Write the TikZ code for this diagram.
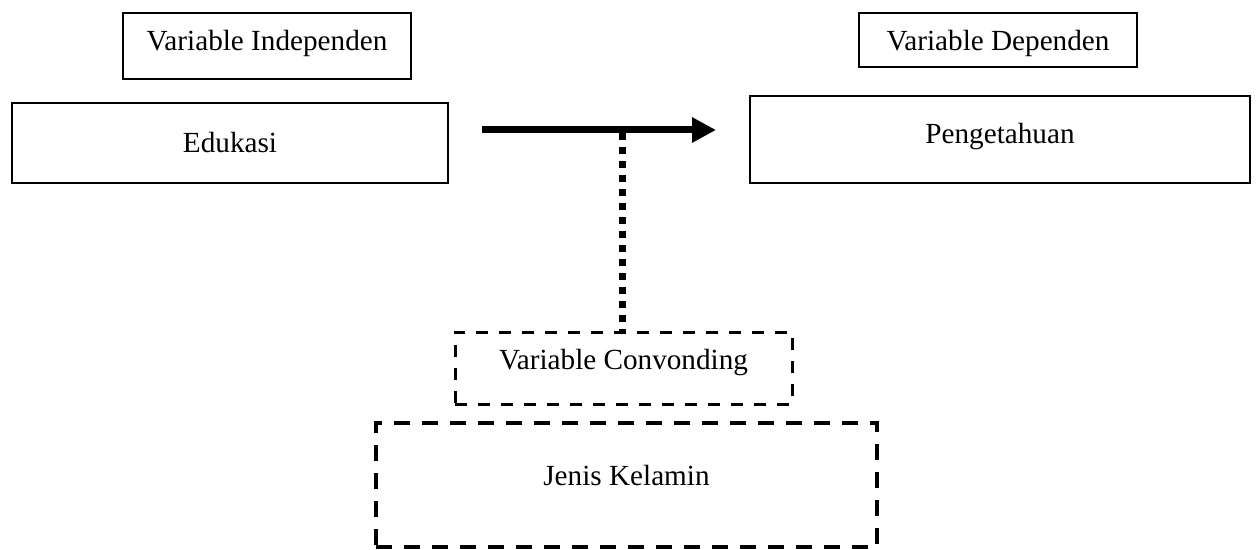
\documentclass[tikz,border=0pt]{standalone}
\usepackage{fontspec}
\setmainfont{Liberation Serif}
\usetikzlibrary{arrows.meta}
\begin{document}
\begin{tikzpicture}[x=0.5pt,y=-0.5pt,
  every node/.style={font=\fontsize{14.6pt}{17pt}\selectfont, inner sep=0pt, outer sep=0pt},
  solidbox/.style={draw, line width=0.8pt},
  dashbox/.style={draw, line width=1.5pt, dash pattern=on 6pt off 5.5pt},
  bigdashbox/.style={draw, line width=2pt, dash pattern=on 8pt off 6pt},
  mainarrow/.style={line width=3.5pt, -{Triangle[length=12pt,width=12pt]}},
  dotline/.style={line width=3.5pt, dash pattern=on 3.5pt off 3.5pt}]
\useasboundingbox (0,0) rectangle (1256,550);
\node[solidbox, minimum width=144pt, text height=19pt, text depth=14pt] (vi) at (267,46) {Variable Independen};
\node[solidbox, line width=1pt, minimum width=218pt, text height=25pt, text depth=15pt] (edu) at (230,143) {Edukasi};
\node[solidbox, minimum width=139pt, text height=19pt, text depth=8pt] (vd) at (998,40) {Variable Dependen};
\node[solidbox, line width=1pt, minimum width=250pt, text height=24pt, text depth=19.5pt] (pen) at (1000,139.5) {Pengetahuan};
\node[dashbox, minimum width=168.5pt, text height=18.5pt, text depth=17.5pt] (conv) at (623.5,368) {Variable Convonding};
\node[bigdashbox, minimum width=250.5pt, text height=31pt, text depth=31pt] (jk) at (626.5,485) {Jenis Kelamin};
\coordinate (as) at (482,130);
\coordinate (ae) at (716,130);
\coordinate (ds) at (622,133);
\coordinate (de) at (622,332);
\draw[mainarrow] (as) -- (ae);
\draw[dotline] (ds) -- (de);
\end{tikzpicture}
\end{document}
